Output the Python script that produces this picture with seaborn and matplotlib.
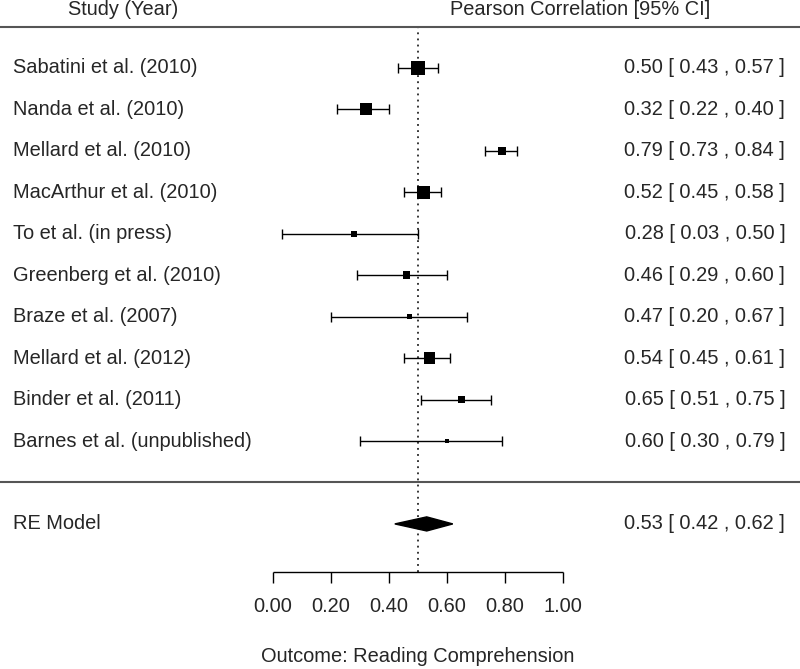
import numpy as np
import pandas as pd
import matplotlib
matplotlib.use("Agg")
import matplotlib.pyplot as plt
import seaborn as sns

studies = ["Sabatini et al. (2010)", "Nanda et al. (2010)", "Mellard et al. (2010)",
           "MacArthur et al. (2010)", "To et al. (in press)", "Greenberg et al. (2010)",
           "Braze et al. (2007)", "Mellard et al. (2012)", "Binder et al. (2011)",
           "Barnes et al. (unpublished)"]
estimate = [0.50, 0.32, 0.79, 0.52, 0.28, 0.46, 0.47, 0.54, 0.65, 0.60]
ci_low = [0.43, 0.22, 0.73, 0.45, 0.03, 0.29, 0.20, 0.45, 0.51, 0.30]
ci_high = [0.57, 0.40, 0.84, 0.58, 0.50, 0.60, 0.67, 0.61, 0.75, 0.79]
weights = [14, 12, 8.6, 13, 5.5, 7.5, 5.5, 11.7, 6.7, 4.5]

re_est, re_low, re_high = 0.53, 0.42, 0.62
ticks = [0.0, 0.2, 0.4, 0.6, 0.8, 1.0]
refline = 0.5

sns.set_style("white")
plt.rcParams["font.family"] = ["Liberation Sans", "DejaVu Sans"]
fs = 14.4

df = pd.DataFrame({"study": studies, "est": estimate, "lo": ci_low, "hi": ci_high,
                   "w": weights})
df["row"] = np.arange(len(df), 0, -1)
# square side in px -> marker area in pt^2 (dpi 100)
df["area"] = (df["w"] * 0.72) ** 2

fig = plt.figure(figsize=(8, 6.69), dpi=100)
ax = fig.add_axes([0, 0, 1, 1])
ax.set_xlim(-0.9414, 1.8172)
ax.set_ylim(-4.50, 11.64)
ax.axis("off")

# reference line
ax.vlines(refline, -2.16, 11, colors="black", linestyles=(0, (1.2, 2.8)), linewidth=1.1)

# CIs
ax.errorbar(df["est"], df["row"], xerr=[df["est"] - df["lo"], df["hi"] - df["est"]],
            fmt="none", ecolor="black", elinewidth=1.0, capsize=3.6, capthick=1.0)
sns.scatterplot(data=df, x="est", y="row", size="area",
                sizes=(df["area"].min(), df["area"].max()), marker="s",
                color="black", edgecolor="black", linewidth=0, legend=False, ax=ax,
                zorder=3)

# summary diamond
ax.fill([re_low, re_est, re_high, re_est], [-1, -0.83, -1, -1.17], color="black",
        zorder=3)

# separators
ax.axhline(11, color="#555555", linewidth=1.5)
ax.axhline(0, color="#555555", linewidth=1.5)

# text columns
for r, s, e, l, h in zip(df["row"], df["study"], df["est"], df["lo"], df["hi"]):
    ax.text(-0.897, r, s, ha="left", va="center", fontsize=fs)
    ax.text(1.766, r, f"{e:.2f} [ {l:.2f} , {h:.2f} ]", ha="right", va="center",
            fontsize=fs)
ax.text(-0.897, -1, "RE Model", ha="left", va="center", fontsize=fs)
ax.text(1.766, -1, f"{re_est:.2f} [ {re_low:.2f} , {re_high:.2f} ]", ha="right",
        va="center", fontsize=fs)

ax.text(-0.707, 11.4, "Study (Year)", ha="left", va="center", fontsize=fs)
ax.text(0.610, 11.4, "Pearson Correlation [95% CI]", ha="left", va="center",
        fontsize=fs)

# x axis
ax.hlines(-2.16, ticks[0], ticks[-1], colors="black", linewidth=1.0)
ax.vlines(ticks, -2.16, -2.43, colors="black", linewidth=1.0)
for t in ticks:
    ax.text(t, -3.0, f"{t:.2f}", ha="center", va="center", fontsize=fs)
ax.text(0.5, -4.21, "Outcome: Reading Comprehension", ha="center", va="center",
        fontsize=fs)

fig.savefig("out.png", dpi=100)
